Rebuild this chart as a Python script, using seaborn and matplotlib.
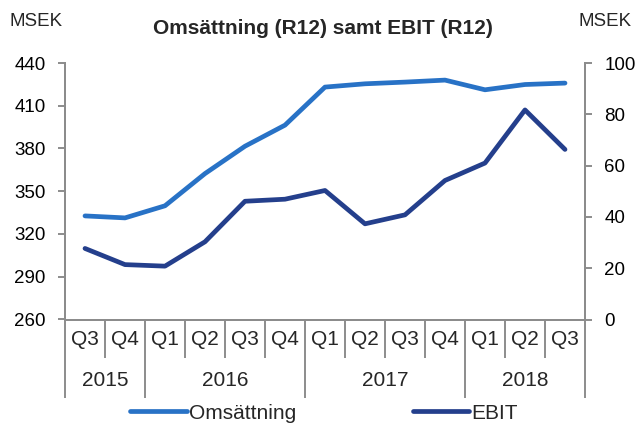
import matplotlib
matplotlib.use("Agg")
import matplotlib.pyplot as plt
import matplotlib.transforms as mtransforms
import numpy as np
import pandas as pd
import seaborn as sns

quarters = ["Q3", "Q4", "Q1", "Q2", "Q3", "Q4", "Q1", "Q2", "Q3", "Q4", "Q1", "Q2", "Q3"]
years = ["2015", "2016", "2017", "2018"]
year_spans = [(0, 1), (2, 5), (6, 9), (10, 12)]
omsattning = [332.7, 331.3, 339.8, 362.4, 381.6, 396.4, 423.1, 425.4, 426.6, 428.0, 421.2, 424.9, 425.9]
ebit = [27.7, 21.4, 20.8, 30.3, 46.1, 46.9, 50.3, 37.3, 40.8, 54.2, 61.0, 81.7, 66.3]

c_oms = "#2872C6"
c_ebit = "#243F8C"
grey = "#8C8C8C"

df = pd.DataFrame({"x": np.arange(len(quarters)), "Omsättning": omsattning, "EBIT": ebit})

sns.set_theme(style="white")
plt.rcParams["font.family"] = ["Liberation Sans", "DejaVu Sans"]

fig = plt.figure(figsize=(6.41, 4.23), dpi=100)
ax = fig.add_axes([65 / 641, 1 - 319.5 / 423, 520 / 641, 256.5 / 423])
ax2 = ax.twinx()

sns.lineplot(data=df, x="x", y="Omsättning", ax=ax, color=c_oms, lw=3.4,
             solid_capstyle="round", label="Omsättning", legend=False)
sns.lineplot(data=df, x="x", y="EBIT", ax=ax2, color=c_ebit, lw=3.4,
             solid_capstyle="round", label="EBIT", legend=False)

ax.set_xlim(-0.5, len(quarters) - 0.5)
ax.set_ylim(260, 440)
ax.set_yticks(np.arange(260, 441, 30))
ax2.set_ylim(0, 100)
ax2.set_yticks(np.arange(0, 101, 20))

for a in (ax, ax2):
    a.set_xlabel("")
    a.set_ylabel("")
    a.grid(False)
    for s in a.spines.values():
        s.set_color(grey)
        s.set_linewidth(1.4)
    a.spines["top"].set_visible(False)

ax.tick_params(axis="y", direction="out", length=5, width=1.4, color=grey,
               labelsize=13.5, pad=9, left=True, labelcolor="black")
ax2.tick_params(axis="y", direction="out", length=5, width=1.4, color=grey,
                labelsize=13.5, pad=9, right=True, labelcolor="black")

# x-axis: boundary ticks forming the two-level category axis
year_bounds = [-0.5] + [e + 0.5 for _, e in year_spans]
quarter_bounds = [i + 0.5 for i in range(len(quarters) - 1) if i + 0.5 not in year_bounds]
ax.set_xticks(year_bounds)
ax.set_xticklabels([])
ax.set_xticks(quarter_bounds, minor=True)
ax.tick_params(axis="x", which="major", direction="out", length=56, width=1.4, color=grey, bottom=True)
ax.tick_params(axis="x", which="minor", direction="out", length=27.5, width=1.4, color=grey, bottom=True)

trans = mtransforms.blended_transform_factory(ax.transData, fig.transFigure)
for i, q in enumerate(quarters):
    ax.text(i, 1 - 339 / 423, q, transform=trans, ha="center", va="center", fontsize=15)
for (s, e), y in zip(year_spans, years):
    ax.text((s + e) / 2, 1 - 380 / 423, y, transform=trans, ha="center", va="center", fontsize=15)

fig.text(323 / 641, 1 - 29 / 423, "Omsättning (R12) samt EBIT (R12)", ha="center", va="center",
         fontsize=15, fontweight="bold")
fig.text(36 / 641, 1 - 21 / 423, "MSEK", ha="center", va="center", fontsize=13.5)
fig.text(605 / 641, 1 - 21 / 423, "MSEK", ha="center", va="center", fontsize=13.5)

h1, l1 = ax.get_legend_handles_labels()
h2, l2 = ax2.get_legend_handles_labels()
fig.legend(h1 + h2, l1 + l2, loc="center", bbox_to_anchor=(324 / 641, 1 - 413 / 423), ncol=2,
           frameon=False, fontsize=15, handlelength=2.7, handletextpad=0.1, columnspacing=5.6,
           borderpad=0)

fig.savefig("out.png", dpi=100)
